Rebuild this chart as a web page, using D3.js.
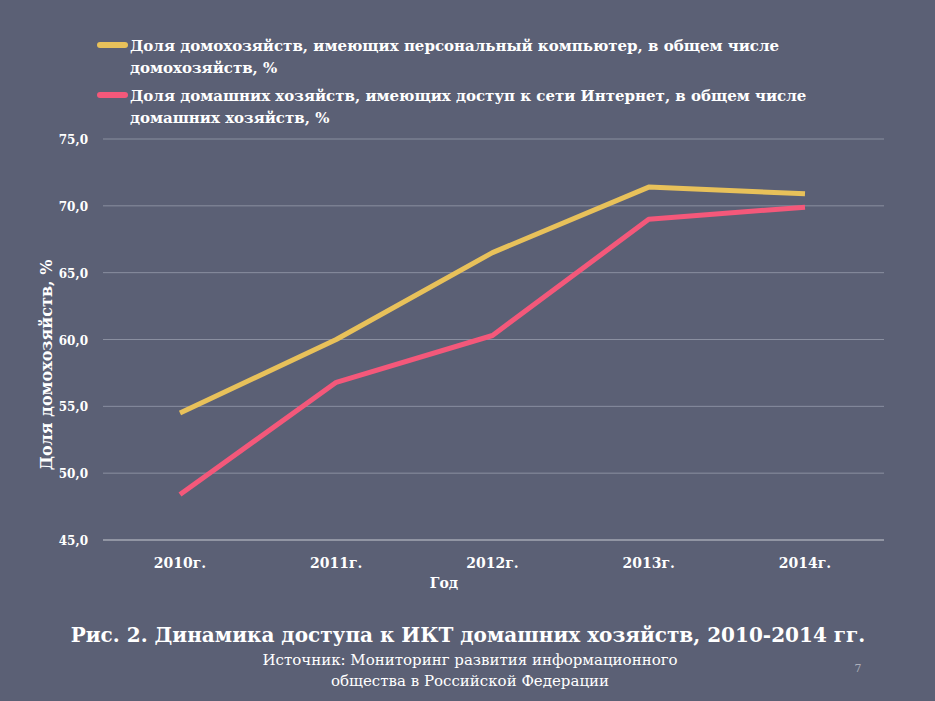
<!DOCTYPE html>
<html><head><meta charset="utf-8">
<script src="https://cdn.jsdelivr.net/npm/d3@7"></script>
<style>body{margin:0;background:#5b6075;}text{font-family:"DejaVu Serif",serif;fill:#fff;font-weight:bold;}text.norm{font-weight:normal;}</style>
</head><body>
<svg id="chart" width="935" height="701"></svg>
<script>
var years = ["2010г.", "2011г.", "2012г.", "2013г.", "2014г."];
var pcShare = [54.5, 60.0, 66.5, 71.4, 70.9];
var netShare = [48.4, 56.8, 60.3, 69.0, 69.9];
var yTicks = [45, 50, 55, 60, 65, 70, 75];

var svg = d3.select("#chart");
svg.append("rect").attr("width", 935).attr("height", 701).attr("fill", "#5b6075");

var x = d3.scalePoint().domain(years).range([180, 805]);
var y = d3.scaleLinear().domain([45, 75]).range([540, 139]);

var g = svg.append("g");
g.selectAll(".grid").data(yTicks).enter().append("line")
  .attr("x1", 103).attr("x2", 884)
  .attr("y1", function(d) { return y(d); }).attr("y2", function(d) { return y(d); })
  .attr("stroke", function(d) { return d == 45 ? "#c8cad2" : "#8a8fa0"; }).attr("stroke-width", 1);

g.selectAll(".yl").data(yTicks).enter().append("text")
  .attr("x", 88).attr("y", function(d) { return y(d) + 5; })
  .attr("text-anchor", "end").attr("font-size", 12)
  .text(function(d) { return d3.format(".1f")(d).replace(".", ","); });

g.selectAll(".xl").data(years).enter().append("text")
  .attr("x", function(d) { return x(d); }).attr("y", 568)
  .attr("text-anchor", "middle").attr("font-size", 14).text(function(d) { return d; });

svg.append("text").attr("x", 444).attr("y", 588).attr("text-anchor", "middle").attr("font-size", 14).text("Год");
svg.append("text").attr("transform", "translate(52,365) rotate(-90)").attr("text-anchor", "middle")
  .attr("font-size", 16).text("Доля домохозяйств, %");

var line = d3.line().x(function(d, i) { return x(years[i]); }).y(function(d) { return y(d); });
[[pcShare, "#e8c15a"], [netShare, "#f4587a"]].forEach(function(s) {
  svg.append("path").datum(s[0]).attr("d", line).attr("fill", "none")
    .attr("stroke", s[1]).attr("stroke-width", 5).attr("stroke-linejoin", "round");
});

var legend = [
  ["#e8c15a", "Доля домохозяйств, имеющих персональный компьютер, в общем числе", "домохозяйств, %", 45],
  ["#f4587a", "Доля домашних хозяйств, имеющих доступ к сети Интернет, в общем числе", "домашних хозяйств, %", 95]
];
legend.forEach(function(l) {
  svg.append("line").attr("x1", 100).attr("x2", 125).attr("y1", l[3]).attr("y2", l[3])
    .attr("stroke", l[0]).attr("stroke-width", 6).attr("stroke-linecap", "round");
  svg.append("text").attr("x", 130).attr("y", l[3] + 6).attr("font-size", 15).text(l[1]);
  svg.append("text").attr("x", 130).attr("y", l[3] + 28).attr("font-size", 15).text(l[2]);
});

svg.append("text").attr("x", 468).attr("y", 642).attr("text-anchor", "middle").attr("font-size", 20).text("Рис. 2. Динамика доступа к ИКТ домашних хозяйств, 2010-2014 гг.");
svg.append("text").attr("class", "norm").attr("x", 470).attr("y", 665).attr("text-anchor", "middle").attr("font-size", 15).text("Источник: Мониторинг развития информационного");
svg.append("text").attr("class", "norm").attr("x", 470).attr("y", 686).attr("text-anchor", "middle").attr("font-size", 15).text("общества в Российской Федерации");
svg.append("text").attr("class", "norm").attr("x", 858).attr("y", 672).attr("text-anchor", "middle").attr("font-size", 11).attr("fill-opacity", 0.5).text("7");
</script>
</body></html>
